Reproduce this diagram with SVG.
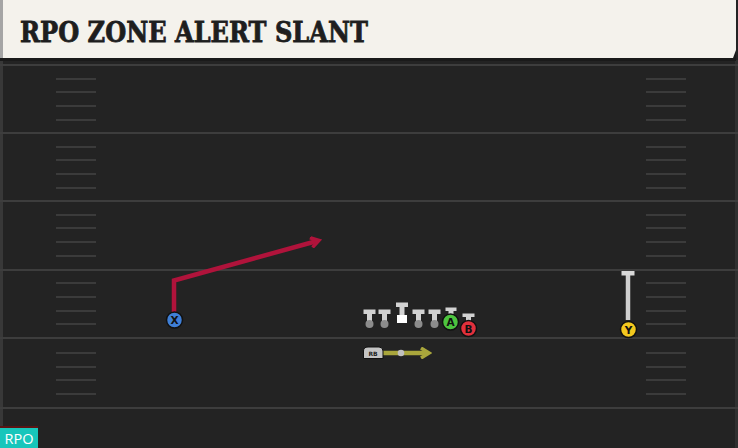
<svg xmlns="http://www.w3.org/2000/svg" width="738" height="448" viewBox="0 0 738 448">
<defs>
<style>
.yl{stroke:#3d3d3d;stroke-width:2}
.hm{stroke:#3b3b3b;stroke-width:2.2}
.ol{fill:#d2d2d2}
.dot{fill:#8c8c8c}
.pl{stroke:#111;stroke-width:1.5}
.lbl{font-family:"DejaVu Sans",sans-serif;font-weight:bold;font-size:10.5px;fill:#111;text-anchor:middle}
</style>
<marker id="ahR" markerWidth="12" markerHeight="12" refX="7" refY="6" orient="auto" markerUnits="userSpaceOnUse" viewBox="0 0 12 12">
<path d="M1,1 L9,6 L1,11" fill="none" stroke="#b0133b" stroke-width="3.5"/>
</marker>
<marker id="ahY" markerWidth="12" markerHeight="12" refX="7" refY="6" orient="auto" markerUnits="userSpaceOnUse" viewBox="0 0 12 12">
<path d="M1,1 L9,6 L1,11" fill="none" stroke="#a9a63c" stroke-width="3.5"/>
</marker>
</defs>
<rect x="0" y="0" width="738" height="448" fill="#232323"/>
<rect x="0" y="60" width="3" height="388" fill="#383838"/>
<rect x="735" y="60" width="3" height="388" fill="#303030"/>
<g id="field">
<line class="yl" x1="0" y1="65" x2="738" y2="65"/>
<line class="yl" x1="0" y1="133" x2="738" y2="133"/>
<line class="yl" x1="0" y1="201" x2="738" y2="201"/>
<line class="yl" x1="0" y1="270" x2="738" y2="270"/>
<line class="yl" x1="0" y1="338" x2="738" y2="338"/>
<line class="yl" x1="0" y1="408" x2="738" y2="408"/>
<g id="hashL">
<path class="hm" d="M56 79H96M56 92H96M56 106H96M56 120H96M56 147H96M56 160H96M56 174H96M56 188H96M56 215H96M56 228H96M56 242H96M56 256H96M56 283H96M56 297H96M56 311H96M56 324H96M56 353H96M56 367H96M56 380H96M56 394H96"/>
</g>
<g id="hashR">
<path class="hm" d="M646 79H686M646 92H686M646 106H686M646 120H686M646 147H686M646 160H686M646 174H686M646 188H686M646 215H686M646 228H686M646 242H686M646 256H686M646 283H686M646 297H686M646 311H686M646 324H686M646 353H686M646 367H686M646 380H686M646 394H686"/>
</g>
</g>
<g id="header">
<rect x="0" y="0" width="736" height="61" fill="#1a1a1a"/>
<path d="M0 0H736V50L733 58H0Z" fill="#f4f2ec"/>
<rect x="0" y="0" width="3" height="58" fill="#a5a5a5"/>
<text x="20" y="42" font-family="DejaVu Serif,serif" font-weight="bold" font-size="27" fill="#1e1e1e" stroke="#1e1e1e" stroke-width="0.8" textLength="348" lengthAdjust="spacingAndGlyphs">RPO ZONE ALERT SLANT</text>
</g>
<g id="connectors">
<polyline points="174,313 174,280.5 317,241" fill="none" stroke="#b0133b" stroke-width="4.5" stroke-linejoin="miter" marker-end="url(#ahR)"/>
<line x1="628" y1="274" x2="628" y2="320" stroke="#cfcfcf" stroke-width="4.5"/>
<rect x="621.5" y="271" width="13" height="4.5" fill="#d8d8d8"/>
<line x1="382" y1="353" x2="427" y2="353" stroke="#a9a63c" stroke-width="4.5" marker-end="url(#ahY)"/>
<circle cx="401" cy="353" r="3.3" fill="#c0c0c0"/>
</g>
<g id="ol1"><rect class="ol" x="363.5" y="309.5" width="12" height="4.5"/><rect class="ol" x="367" y="312" width="5" height="11"/><circle class="dot" cx="369.5" cy="324" r="4"/></g>
<g id="ol2"><rect class="ol" x="378.5" y="309.5" width="12" height="4.5"/><rect class="ol" x="382" y="312" width="5" height="11"/><circle class="dot" cx="384.5" cy="324" r="4"/></g>
<g id="center"><rect class="ol" x="396" y="302.5" width="12" height="4.5"/><rect class="ol" x="399.5" y="305" width="5" height="10"/><rect x="397" y="315" width="10" height="8" fill="#ffffff"/></g>
<g id="ol4"><rect class="ol" x="412.5" y="309.5" width="12" height="4.5"/><rect class="ol" x="416" y="312" width="5" height="11"/><circle class="dot" cx="418.5" cy="324" r="4"/></g>
<g id="ol5"><rect class="ol" x="428.5" y="309.5" width="12" height="4.5"/><rect class="ol" x="432" y="312" width="5" height="11"/><circle class="dot" cx="434.5" cy="324" r="4"/></g>
<g id="A"><rect class="ol" x="445.5" y="307.5" width="11" height="3.5"/><rect class="ol" x="448.5" y="310" width="5" height="5"/><circle class="pl" cx="450.5" cy="322" r="8" fill="#4dc53f"/><text class="lbl" x="450.5" y="326">A</text></g>
<g id="B"><rect class="ol" x="462.5" y="313.5" width="12" height="3.5"/><rect class="ol" x="466" y="316" width="5" height="5"/><circle class="pl" cx="468.5" cy="328.5" r="8" fill="#e2303c"/><text class="lbl" x="468.5" y="332.5">B</text></g>
<g id="X"><circle class="pl" cx="174.5" cy="320" r="8" fill="#3f7fd6"/><text class="lbl" x="174.5" y="324">X</text></g>
<g id="Y"><circle class="pl" cx="628.5" cy="329.5" r="8" fill="#f3c81e"/><text class="lbl" x="628.5" y="333.5">Y</text></g>
<g id="RB"><path d="M363.5 358.5V351Q363.5 347 368 347H379Q383 347 383 351V358.5Z" fill="#c4c4c4" stroke="#111" stroke-width="1"/><text x="373" y="356" font-family="DejaVu Sans,sans-serif" font-weight="bold" font-size="6" fill="#222" text-anchor="middle">RB</text></g>
<g id="tag">
<rect x="0" y="426" width="38" height="2" fill="#5a1515"/>
<rect x="0" y="428" width="38" height="20" fill="#17c6bb"/>
<text x="19" y="444" font-family="Open Sans,sans-serif" font-size="14.5" fill="#ffffff" text-anchor="middle">RPO</text>
</g>
</svg>
